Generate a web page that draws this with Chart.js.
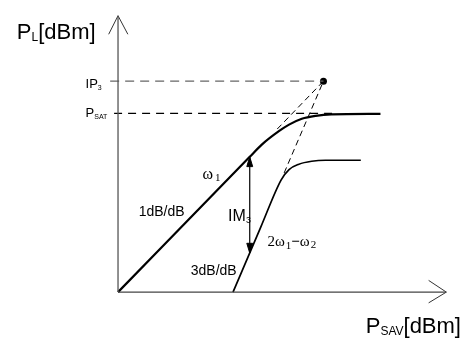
<!DOCTYPE html>
<html>
<head>
<meta charset="utf-8">
<script src="https://cdn.jsdelivr.net/npm/chart.js@4/dist/chart.umd.min.js"></script>
<style>
  html, body { margin: 0; padding: 0; background: #fff; }
  #wrap { width: 469px; height: 343px; }
</style>
</head>
<body>
<div id="wrap"><canvas id="chart" width="469" height="343"></canvas></div>
<script>
// output power vs input power (arbitrary dB units, origin at the axes corner)
const fundamental = [[0, 0], [13.4, 13.85], [14.6, 15.08], [16.4, 16.5], [17.4, 17.15], [18.7, 17.75], [20.1, 18.05], [21.7, 18.2], [26.7, 18.25]];
const thirdOrder = [[11.7, 0], [14.5, 6.6], [16.6, 11.5], [17.4, 12.55], [18.4, 13.1], [19.7, 13.4], [21.1, 13.5], [24.7, 13.5]];
const ip3Point = [20.9, 21.6];
const psatLevel = 18.3;
const fundExtStart = [16.2, 16.7];
const imExtStart = [16.9, 12.2];
const im3ArrowX = 13.4;
const im3ArrowLow = 4.0;
const im3ArrowHigh = 13.85;
const xAxisEnd = 33.4;
const yAxisEnd = 28.3;

const pts = arr => arr.map(p => ({ x: p[0], y: p[1] }));

function lineSet(data, opts) {
    return Object.assign({
        data: data,
        borderColor: '#000',
        borderWidth: 1,
        pointRadius: 0,
        fill: false,
        tension: 0
    }, opts);
}

const datasets = [
    // axes
    lineSet(pts([[0, 0], [0, yAxisEnd]]), { borderColor: '#555', borderWidth: 1.3 }),
    lineSet(pts([[-0.95, yAxisEnd - 1.9], [0, yAxisEnd], [1.0, yAxisEnd - 1.9]]), { borderColor: '#333' }),
    lineSet(pts([[0, 0], [xAxisEnd, 0]]), { borderColor: '#444', borderWidth: 1.2 }),
    lineSet(pts([[xAxisEnd - 1.8, 1.2], [xAxisEnd, 0], [xAxisEnd - 1.8, -1.1]]), { borderColor: '#333' }),
    // reference levels
    lineSet(pts([[-0.8, ip3Point[1]], ip3Point]), { borderColor: '#666', borderWidth: 1.4, borderDash: [9, 6] }),
    lineSet(pts([[-0.4, psatLevel], [22, psatLevel]]), { borderColor: '#000', borderWidth: 1.1, borderDash: [8, 6] }),
    // extrapolations to IP3
    lineSet(pts([fundExtStart, ip3Point]), { borderDash: [6, 4] }),
    lineSet(pts([imExtStart, ip3Point]), { borderDash: [6, 4] }),
    // curves
    lineSet(pts(fundamental), { borderWidth: 2.2, cubicInterpolationMode: 'monotone' }),
    lineSet(pts(thirdOrder), { borderWidth: 1.7, cubicInterpolationMode: 'monotone' }),
    // IM3 double arrow
    lineSet(pts([[im3ArrowX, im3ArrowLow], [im3ArrowX, im3ArrowHigh]]), { borderWidth: 1.2 }),
    lineSet(pts([[im3ArrowX - 0.3, im3ArrowHigh - 1.0], [im3ArrowX, im3ArrowHigh], [im3ArrowX + 0.3, im3ArrowHigh - 1.0], [im3ArrowX - 0.3, im3ArrowHigh - 1.0]]), { fill: 'shape', backgroundColor: '#000' }),
    lineSet(pts([[im3ArrowX - 0.3, im3ArrowLow + 1.0], [im3ArrowX, im3ArrowLow], [im3ArrowX + 0.3, im3ArrowLow + 1.0], [im3ArrowX - 0.3, im3ArrowLow + 1.0]]), { fill: 'shape', backgroundColor: '#000' }),
    // intercept point
    { type: 'scatter', data: pts([ip3Point]), pointRadius: 3.5, pointBackgroundColor: '#000', pointBorderWidth: 0 }
];

const SANS = 'Arial, "Liberation Sans", sans-serif';
const SERIF = '"Times New Roman", "Liberation Serif", serif';

// text labels: anchor in data units, parts drawn left to right [text, size, family, drop, weight, gap before]
const labels = [
    { at: [-10.3, 25.9], parts: [['P', 22, SANS, 0], ['L', 12, SANS, 2], ['[dBm]', 22, SANS, 0]] },
    { at: [-3.3, 20.9], parts: [['IP', 13, SANS, 0], ['3', 7, SANS, 2]] },
    { at: [-3.3, 17.9], parts: [['P', 13, SANS, 0], ['SAT', 7, SANS, 2]] },
    { at: [8.6, 11.6], parts: [['ω', 16, SERIF, 0], ['1', 11, SERIF, 2, 'normal', 2]] },
    { at: [2.1, 7.8], parts: [['1dB/dB', 14, SANS, 0]] },
    { at: [11.2, 7.3], parts: [['IM', 16, SANS, 0], ['3', 9, SANS, 2]] },
    { at: [15.2, 4.7], parts: [['2ω', 15, SERIF, 0], ['1', 11, SERIF, 3, 'normal', 1], ['−', 15, SERIF, 0, 'bold'], ['ω', 15, SERIF, 0], ['2', 11, SERIF, 2, 'normal', 1]] },
    { at: [7.4, 1.8], parts: [['3dB/dB', 14, SANS, 0]] },
    { at: [25.2, -4.2], parts: [['P', 22, SANS, 0], ['SAV', 12, SANS, 2], ['[dBm]', 22, SANS, 0]] }
];

const textPlugin = {
    id: 'textLabels',
    afterDatasetsDraw(chart) {
        const ctx = chart.ctx;
        const xs = chart.scales.x, ys = chart.scales.y;
        ctx.save();
        ctx.fillStyle = '#000';
        ctx.textBaseline = 'alphabetic';
        ctx.textAlign = 'left';
        labels.forEach(l => {
            let x = xs.getPixelForValue(l.at[0]);
            const y = ys.getPixelForValue(l.at[1]);
            l.parts.forEach(([t, size, fam, dy, weight, gap]) => {
                ctx.font = (weight || 'normal') + ' ' + size + 'px ' + fam;
                x += gap || 0;
                ctx.fillText(t, x, y + dy);
                x += ctx.measureText(t).width;
            });
        });
        ctx.restore();
    }
};

new Chart(document.getElementById('chart'), {
    type: 'line',
    data: { datasets: datasets },
    options: {
        responsive: false,
        animation: false,
        devicePixelRatio: 1,
        layout: { padding: 0 },
        plugins: { legend: { display: false }, tooltip: { enabled: false } },
        scales: {
            x: { type: 'linear', min: -11.6, max: 35.3, display: false },
            y: { type: 'linear', min: -4.8, max: 29.5, display: false }
        },
        elements: { line: { clip: false } }
    },
    plugins: [textPlugin]
});
</script>
</body>
</html>
